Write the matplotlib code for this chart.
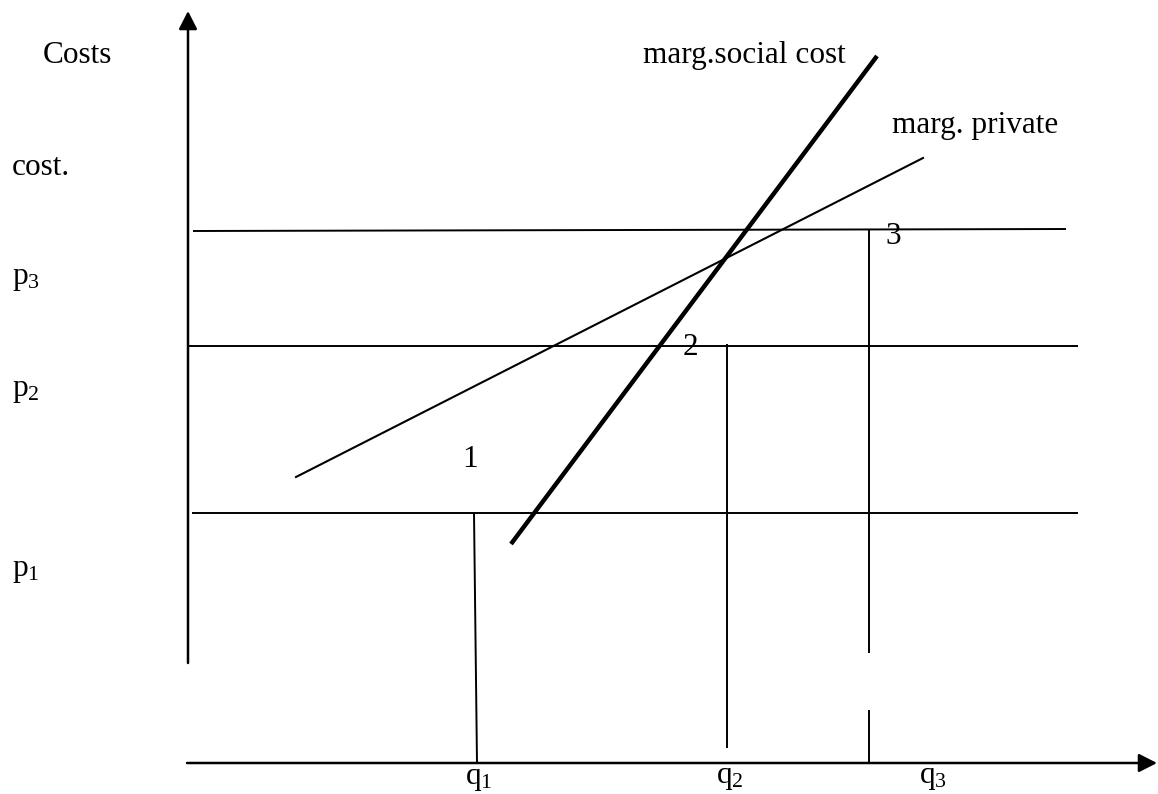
import matplotlib
matplotlib.use("Agg")
import matplotlib.pyplot as plt

plt.rcParams["font.family"] = ["Liberation Serif", "DejaVu Serif"]
plt.rcParams["mathtext.fontset"] = "custom"
plt.rcParams["mathtext.rm"] = "Liberation Serif"
plt.rcParams["mathtext.it"] = "Liberation Serif"
plt.rcParams["mathtext.default"] = "rm"

# diagram drawn in picture units (x to the right, y downwards)
# price levels p3, p2, p1: (x_left, y_left, x_right, y_right)
price_lines = [
    (193, 231, 1066, 229),
    (187, 346, 1078, 346),
    (192, 513, 1078, 513),
]
# quantity drop lines: (x_top, y_top, x_bottom, y_bottom)
qty_lines = [
    (474, 513, 477, 763),
    (727, 344, 727, 748),
    (869, 229, 869, 653),
    (869, 710, 869, 763),
]
# marginal cost curves: (x0, y0, x1, y1)
private_cost = (296, 477, 923, 158)
social_cost = (511, 544, 877, 56)

y_axis = (188, 663, 188, 11)
x_axis = (187, 763, 1157, 763)

# labels: text, x, baseline y
labels = [
    ("Costs", 43, 63),
    ("cost.", 12, 175),
    ("p$_3$", 12, 284),
    ("p$_2$", 12, 396),
    ("p$_1$", 12, 576),
    ("marg.social cost", 643, 63),
    ("marg. private", 892, 133),
    ("1", 462, 467),
    ("2", 683, 355),
    ("3", 885, 244),
    ("q$_1$", 465, 784),
    ("q$_2$", 716, 783),
    ("q$_3$", 919, 783),
]

fig = plt.figure(figsize=(11.58, 7.94), dpi=100)
ax = fig.add_axes([0, 0, 1, 1])
ax.set_xlim(0, 1158)
ax.set_ylim(794, 0)
ax.axis("off")

for x0, y0, x1, y1 in price_lines:
    ax.plot([x0, x1], [y0, y1], color="black", lw=1.4, solid_capstyle="butt")

for x0, y0, x1, y1 in qty_lines:
    ax.plot([x0, x1], [y0, y1], color="black", lw=1.4, solid_capstyle="butt")

ax.plot(private_cost[::2], private_cost[1::2], color="black", lw=1.5)
ax.plot(social_cost[::2], social_cost[1::2], color="black", lw=3.2,
        solid_capstyle="butt")

# axes with arrow heads
for x0, y0, x1, y1 in (y_axis, x_axis):
    ax.annotate("", xy=(x1, y1), xytext=(x0, y0),
                arrowprops=dict(arrowstyle="-|>,head_length=0.55,head_width=0.28",
                                mutation_scale=20, lw=1.8, color="black",
                                shrinkA=0, shrinkB=0))

for txt, x, y in labels:
    ax.text(x, y, txt, fontsize=22.5, ha="left", va="baseline", color="black")

fig.savefig("out.png", dpi=100, facecolor="white")
